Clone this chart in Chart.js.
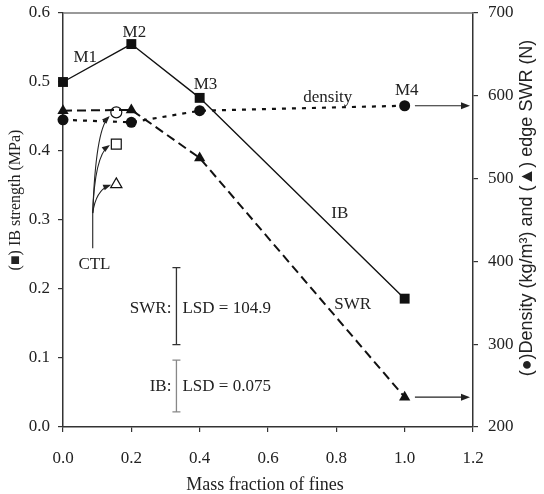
<!DOCTYPE html>
<html>
<head>
<meta charset="utf-8">
<script src="https://cdn.jsdelivr.net/npm/chart.js@4.4.1/dist/chart.umd.min.js"></script>
<style>
html,body{margin:0;padding:0;background:#fff;}
#wrap{width:544px;height:494px;position:relative;}
</style>
</head>
<body>
<div id="wrap"><canvas id="c" width="544" height="494"></canvas></div>
<script>
// ---- data ----
const massFraction = [0.0, 0.2, 0.4, 1.0];
const ibStrength = [0.50, 0.555, 0.477, 0.186];          // MPa (left axis)
const density = [571, 568, 582, 588];                     // kg/m3 (right axis)
const edgeSWR = [582, 583, 525, 236];                     // N (right axis)
const ctlFraction = [0.156];
const ctlIB = [0.41];
const ctlDensity = [580];
const ctlSWR = [493];
const lsdSWR = 104.9;
const lsdIB = 0.075;
const xTicks = [0.0, 0.2, 0.4, 0.6, 0.8, 1.0, 1.2];
const leftTicks = [0.0, 0.1, 0.2, 0.3, 0.4, 0.5, 0.6];
const rightTicks = [200, 300, 400, 500, 600, 700];
const pointLabels = ['M1', 'M2', 'M3', 'M4'];

const pts = (xs, ys) => xs.map((x, i) => ({x: x, y: ys[i]}));
const serif = "'Liberation Serif', 'Times New Roman', serif";
const sans = "'Liberation Sans', Arial, sans-serif";

const overlay = {
  id: 'overlay',
  afterDatasetsDraw(chart) {
    const ctx = chart.ctx;
    const xs = chart.scales.x, yl = chart.scales.y, yr = chart.scales.y2;
    const ca = chart.chartArea;
    ctx.save();
    // top border
    ctx.strokeStyle = '#777'; ctx.lineWidth = 1.5;
    ctx.beginPath(); ctx.moveTo(ca.left, ca.top); ctx.lineTo(ca.right, ca.top); ctx.stroke();

    ctx.fillStyle = '#222';
    ctx.font = '17px ' + serif;
    ctx.textAlign = 'center'; ctx.textBaseline = 'middle';
    // M labels
    ctx.fillText(pointLabels[0], xs.getPixelForValue(0.065), yl.getPixelForValue(0.535));
    ctx.fillText(pointLabels[1], xs.getPixelForValue(0.209), yl.getPixelForValue(0.571));
    ctx.fillText(pointLabels[2], xs.getPixelForValue(0.417), yl.getPixelForValue(0.497));
    ctx.fillText(pointLabels[3], xs.getPixelForValue(1.006), yl.getPixelForValue(0.488));
    // series labels
    ctx.fillText('density', xs.getPixelForValue(0.775), yl.getPixelForValue(0.477));
    ctx.fillText('IB', xs.getPixelForValue(0.81), yl.getPixelForValue(0.31));
    ctx.fillText('SWR', xs.getPixelForValue(0.848), yl.getPixelForValue(0.177));
    ctx.fillText('CTL', xs.getPixelForValue(0.092), yl.getPixelForValue(0.235));

    // arrows to right axis
    const arrow = (x1, y1, x2, y2) => {
      ctx.strokeStyle = '#222'; ctx.lineWidth = 1.2;
      ctx.beginPath(); ctx.moveTo(x1, y1); ctx.lineTo(x2 - 6, y2); ctx.stroke();
      ctx.fillStyle = '#222';
      ctx.beginPath(); ctx.moveTo(x2, y2); ctx.lineTo(x2 - 9, y2 - 3.5); ctx.lineTo(x2 - 9, y2 + 3.5); ctx.closePath(); ctx.fill();
    };
    arrow(xs.getPixelForValue(1.03), yr.getPixelForValue(density[3]), ca.right - 3, yr.getPixelForValue(density[3]));
    arrow(xs.getPixelForValue(1.03), yr.getPixelForValue(edgeSWR[3]), ca.right - 3, yr.getPixelForValue(edgeSWR[3]));

    // CTL curved arrows
    const bx = xs.getPixelForValue(0.087), by = yl.getPixelForValue(0.259);
    const vy = yl.getPixelForValue(0.31);
    ctx.strokeStyle = '#222'; ctx.lineWidth = 1.1;
    ctx.beginPath(); ctx.moveTo(bx, by); ctx.lineTo(bx, vy); ctx.stroke();
    const curve = (tx, ty, cx, cy) => {
      ctx.beginPath(); ctx.moveTo(bx, vy); ctx.quadraticCurveTo(cx, cy, tx, ty); ctx.stroke();
      const ang = Math.atan2(ty - cy, tx - cx);
      ctx.beginPath();
      ctx.moveTo(tx + 2 * Math.cos(ang), ty + 2 * Math.sin(ang));
      ctx.lineTo(tx - 6 * Math.cos(ang) + 3 * Math.sin(ang), ty - 6 * Math.sin(ang) - 3 * Math.cos(ang));
      ctx.lineTo(tx - 6 * Math.cos(ang) - 3 * Math.sin(ang), ty - 6 * Math.sin(ang) + 3 * Math.cos(ang));
      ctx.closePath(); ctx.fillStyle = '#222'; ctx.fill();
    };
    const ox = xs.getPixelForValue(ctlFraction[0]);
    curve(ox - 7, yr.getPixelForValue(ctlSWR[0]) + 1, bx + 3, yr.getPixelForValue(ctlSWR[0]) + 6);
    curve(ox - 8, yl.getPixelForValue(ctlIB[0]) + 2, bx + 2, yl.getPixelForValue(ctlIB[0]) + 12);
    curve(ox - 8, yr.getPixelForValue(ctlDensity[0]) + 5, bx + 3, yr.getPixelForValue(ctlDensity[0]) + 18);

    // LSD bars
    const lx = xs.getPixelForValue(0.332);
    const bar = (y1, y2, col) => {
      ctx.strokeStyle = col; ctx.lineWidth = 1.3;
      ctx.beginPath();
      ctx.moveTo(lx, y1); ctx.lineTo(lx, y2);
      ctx.moveTo(lx - 4, y1); ctx.lineTo(lx + 4, y1);
      ctx.moveTo(lx - 4, y2); ctx.lineTo(lx + 4, y2);
      ctx.stroke();
    };
    const swrMid = 346;
    bar(yr.getPixelForValue(swrMid + lsdSWR / 2 - 6), yr.getPixelForValue(swrMid - lsdSWR / 2 + 6), '#333');
    bar(yl.getPixelForValue(0.022 + lsdIB), yl.getPixelForValue(0.022), '#888');
    ctx.fillStyle = '#222';
    ctx.font = '17px ' + serif;
    ctx.textAlign = 'right';
    ctx.fillText('SWR:', lx - 5, yr.getPixelForValue(swrMid) + 2);
    ctx.fillText('IB:', lx - 5, yl.getPixelForValue(0.058));
    ctx.textAlign = 'left';
    ctx.fillText('LSD = ' + lsdSWR.toFixed(1), lx + 6, yr.getPixelForValue(swrMid) + 2);
    ctx.fillText('LSD = ' + lsdIB.toFixed(3), lx + 6, yl.getPixelForValue(0.058));

    // axis titles
    ctx.fillStyle = '#222';
    ctx.textAlign = 'center'; ctx.textBaseline = 'middle';
    ctx.font = '18px ' + serif;
    ctx.fillText('Mass fraction of fines', (ca.left + ca.right) / 2 - 3, 485);
    ctx.save();
    ctx.translate(16, 200); ctx.rotate(-Math.PI / 2);
    ctx.font = '16px ' + serif;
    ctx.fillText('(\u25A0) IB strength (MPa)', 0, 0);
    ctx.restore();
    ctx.save();
    ctx.translate(527, 208); ctx.rotate(-Math.PI / 2);
    ctx.font = '18px ' + sans;
    ctx.fillText('(\u25CF)Density (kg/m\u00B3) and (\u25B2) edge SWR (N)', 0, 0);
    ctx.restore();
    ctx.restore();
  }
};

const axisCommon = {
  grid: {drawOnChartArea: false, drawTicks: true, tickLength: 5, color: '#333', lineWidth: 1.2},
  border: {display: true, color: '#333', width: 1.5},
  ticks: {color: '#222', font: {family: serif, size: 17}}
};

new Chart(document.getElementById('c'), {
  type: 'scatter',
  data: {
    datasets: [
      {label: 'IB', data: pts(massFraction, ibStrength), yAxisID: 'y', showLine: true, clip: false,
       borderColor: '#111', backgroundColor: '#111', borderWidth: 1.4,
       pointStyle: 'rect', pointRadius: 7, pointBorderWidth: 0},
      {label: 'density', data: pts(massFraction, density), yAxisID: 'y2', showLine: true, clip: false,
       borderColor: '#111', backgroundColor: '#111', borderWidth: 2.2, borderDash: [4, 6],
       pointStyle: 'circle', pointRadius: 5.5, pointBorderWidth: 0},
      {label: 'SWR', data: pts(massFraction, edgeSWR), yAxisID: 'y2', showLine: true, clip: false,
       borderColor: '#111', backgroundColor: '#111', borderWidth: 2, borderDash: [9, 5],
       pointStyle: 'triangle', pointRadius: 6.5, pointBorderWidth: 0},
      {label: 'CTL density', data: pts(ctlFraction, ctlDensity), yAxisID: 'y2', clip: false,
       borderColor: '#111', backgroundColor: '#fff', borderWidth: 1.2,
       pointStyle: 'circle', pointRadius: 5.5},
      {label: 'CTL IB', data: pts(ctlFraction, ctlIB), yAxisID: 'y', clip: false,
       borderColor: '#111', backgroundColor: '#fff', borderWidth: 1.2,
       pointStyle: 'rect', pointRadius: 7},
      {label: 'CTL SWR', data: pts(ctlFraction, ctlSWR), yAxisID: 'y2', clip: false,
       borderColor: '#111', backgroundColor: '#fff', borderWidth: 1.2,
       pointStyle: 'triangle', pointRadius: 6.5}
    ]
  },
  options: {
    responsive: false, animation: false, events: [],
    layout: {padding: {top: 13, left: 0, right: 0, bottom: 0}},
    plugins: {legend: {display: false}, tooltip: {enabled: false}},
    scales: {
      x: Object.assign({}, axisCommon, {
        type: 'linear', min: 0, max: 1.2,
        afterBuildTicks: s => { s.ticks = xTicks.map(v => ({value: v})); },
        afterFit: s => { s.height = 67; s.paddingLeft = 0; s.paddingRight = 0; },
        ticks: Object.assign({}, axisCommon.ticks, {padding: 16, callback: v => v.toFixed(1)})
      }),
      y: Object.assign({}, axisCommon, {
        type: 'linear', position: 'left', min: 0, max: 0.6,
        afterBuildTicks: s => { s.ticks = leftTicks.map(v => ({value: v})); },
        afterFit: s => { s.width = 63; s.paddingTop = 0; s.paddingBottom = 0; },
        ticks: Object.assign({}, axisCommon.ticks, {padding: 8, callback: v => v.toFixed(1)})
      }),
      y2: Object.assign({}, axisCommon, {
        type: 'linear', position: 'right', min: 200, max: 700,
        afterBuildTicks: s => { s.ticks = rightTicks.map(v => ({value: v})); },
        afterFit: s => { s.width = 71; s.paddingTop = 0; s.paddingBottom = 0; },
        ticks: Object.assign({}, axisCommon.ticks, {padding: 10})
      })
    }
  },
  plugins: [overlay]
});
</script>
</body>
</html>
